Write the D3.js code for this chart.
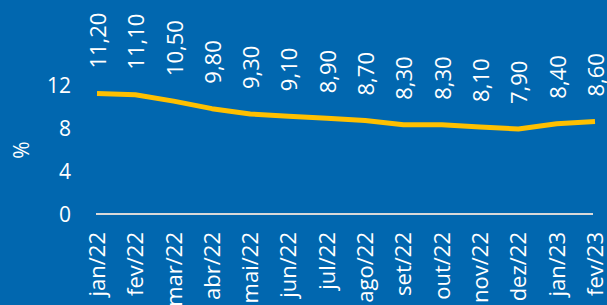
<!DOCTYPE html>
<html>
<head>
<meta charset="utf-8">
<script src="https://cdn.jsdelivr.net/npm/d3@7"></script>
<style>
  html, body { margin: 0; padding: 0; background: #0167af; overflow: hidden; }
  text { font-family: "Open Sans", sans-serif; fill: #fff; }
</style>
</head>
<body>
<script>
var months = ["jan/22", "fev/22", "mar/22", "abr/22", "mai/22", "jun/22", "jul/22",
  "ago/22", "set/22", "out/22", "nov/22", "dez/22", "jan/23", "fev/23"];
var rates = [11.2, 11.1, 10.5, 9.8, 9.3, 9.1, 8.9, 8.7, 8.3, 8.3, 8.1, 7.9, 8.4, 8.6];
var yTicks = [0, 4, 8, 12];

var width = 607, height = 305;

var svg = d3.select("body").append("svg")
  .attr("width", width)
  .attr("height", height);

svg.append("rect").attr("width", width).attr("height", height).attr("fill", "#0167af");

var x = d3.scalePoint().domain(months).range([97, 595]);
var y = d3.scaleLinear().domain([0, 12]).range([214, 85]);

// y axis labels
svg.append("g").selectAll("text")
  .data(yTicks)
  .join("text")
  .attr("x", 71)
  .attr("y", d => y(d))
  .attr("dy", "0.36em")
  .attr("text-anchor", "end")
  .attr("font-size", 21)
  .text(d => d);

svg.append("text")
  .attr("transform", "translate(21,150) rotate(-90)")
  .attr("text-anchor", "middle")
  .attr("dy", "0.36em")
  .attr("font-size", 21)
  .text("%");

// baseline
svg.append("line")
  .attr("x1", 96).attr("x2", 593)
  .attr("y1", y(0)).attr("y2", y(0))
  .attr("stroke", "#d9d9d9")
  .attr("stroke-width", 2);

// x labels
svg.append("g").selectAll("text")
  .data(months)
  .join("text")
  .attr("transform", d => "translate(" + x(d) + ",232) rotate(-90)")
  .attr("text-anchor", "end")
  .attr("dy", "0.36em")
  .attr("font-size", 22)
  .text(d => d);

// line
var line = d3.line()
  .x((d, i) => x(months[i]))
  .y(d => y(d));

svg.append("path")
  .datum(rates)
  .attr("d", line)
  .attr("fill", "none")
  .attr("stroke", "#ffc000")
  .attr("stroke-width", 5)
  .attr("stroke-linejoin", "round");

// value labels
var fmt = d => d.toFixed(2).replace(".", ",");
svg.append("g").selectAll("text")
  .data(rates)
  .join("text")
  .attr("transform", (d, i) => "translate(" + (x(months[i]) + 1) + "," + (y(d) - 25) + ") rotate(-90)")
  .attr("text-anchor", "start")
  .attr("dy", "0.36em")
  .attr("font-size", 22)
  .text(fmt);
</script>
</body>
</html>
